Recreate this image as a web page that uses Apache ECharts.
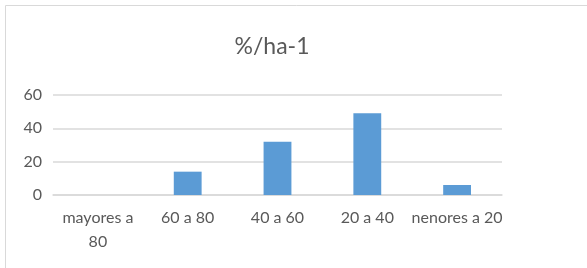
<!DOCTYPE html>
<html>
<head>
<meta charset="utf-8">
<script src="https://cdn.jsdelivr.net/npm/echarts@6/dist/echarts.min.js"></script>
<style>
  html, body { margin: 0; padding: 0; background: #fff; }
  #chart { width: 587px; height: 268px; }
</style>
</head>
<body>
<div id="chart"></div>
<script>
const categories = ["mayores a\n80", "60 a 80", "40 a 60", "20 a 40", "nenores a 20"];
const values = [0, 14, 32, 49, 6];
const yTicks = { min: 0, max: 60, interval: 20 };

const myChart = echarts.init(document.getElementById("chart"));
const textColor = "#595959";
const font = "Lato, 'Open Sans', sans-serif";

const option = {
  animation: false,
  title: {
    text: "%/ha-1",
    left: 267,
    top: 30,
    textAlign: "center",
    textStyle: { color: textColor, fontSize: 23, fontWeight: "normal", fontFamily: font }
  },
  graphic: [
    {
      type: "polyline",
      shape: { points: [[5.5, 268], [5.5, 5.5], [587, 5.5]] },
      style: { stroke: "#d9d9d9", lineWidth: 1, fill: null }
    }
  ],
  grid: { left: 53, right: 85, top: 95, bottom: 73 },
  xAxis: {
    type: "category",
    data: categories,
    axisLine: { show: true, lineStyle: { color: "#d9d9d9", width: 1.5 } },
    axisTick: { show: false },
    axisLabel: {
      color: textColor, fontSize: 16, fontFamily: font, margin: 11, lineHeight: 24,
      interval: 0
    }
  },
  yAxis: {
    type: "value",
    min: yTicks.min,
    max: yTicks.max,
    interval: yTicks.interval,
    axisLine: { show: false },
    axisTick: { show: false },
    splitLine: { lineStyle: { color: "#d9d9d9", width: 1.5 } },
    axisLabel: { color: textColor, fontSize: 16, fontFamily: font, margin: 11 }
  },
  series: [
    {
      type: "bar",
      data: values,
      barWidth: "31%",
      itemStyle: { color: "#5b9bd5" }
    }
  ]
};

option && myChart.setOption(option);
</script>
</body>
</html>
